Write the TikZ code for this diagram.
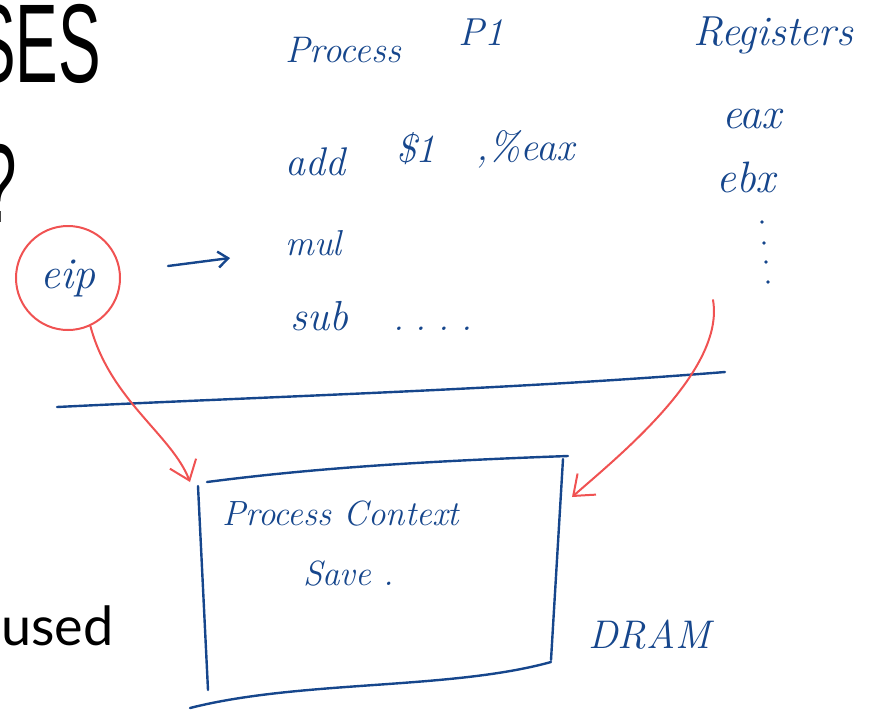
\documentclass[tikz,border=0pt]{standalone}
\usepackage{fontspec}
\usetikzlibrary{arrows.meta}
\newfontfamily\slidefont{Liberation Sans}
\newfontfamily\bodyfont{Lato}
\definecolor{encre}{HTML}{16468C}
\definecolor{rouge}{HTML}{F05252}
\newcommand\taille[1]{\fontsize{#1}{#1}\selectfont\itshape}
\tikzset{
  main/.style={text=encre, inner sep=0pt, anchor=base west, font=\taille{36}},
  slide/.style={text=black, inner sep=0pt, font=\fontsize{112}{112}\selectfont\slidefont},
  trait/.style={draw=encre, line width=2.4pt, line cap=round},
  fleche/.style={draw=rouge, line width=2pt, line cap=round, -{Straight Barb[length=18pt,width=28pt]}}
}

\begin{document}
\begin{tikzpicture}[x=1pt,y=-1pt]
   \useasboundingbox (0,0) rectangle (869,710);
   \clip (0,0) rectangle (869,710);

   % Texte de la diapositive
   \node[slide, anchor=base east] (titre) at (101,82) {\scalebox{0.57}[1]{SES}};
   \node[slide, anchor=base east] (quest) at (17,222) {\scalebox{0.57}[1]{?}};
   \node[inner sep=0pt, anchor=base west, font=\fontsize{54}{54}\selectfont\bodyfont] (used) at (1,645) {used};

   % Processus et registres
   \node[main, font=\taille{37}] (proc) at (285,62) {Process};
   \node[main, font=\taille{39}] (pun) at (458,45) {P1};
   \node[main, font=\taille{42}] (regs) at (693,45) {Registers};
   \node[main, font=\taille{40}] (add) at (285,175) {add};
   \node[main, font=\taille{40}] (dollar) at (396,162) {\$1};
   \node[main, font=\taille{40}] (pct) at (476,160) {,\%eax};
   \node[main, font=\taille{44}] (eax) at (722,128) {eax};
   \node[main, font=\taille{44}] (ebx) at (716,192) {ebx};
   \foreach \x/\y in {762/222, 764/243, 766/262, 768/282}
      \fill[encre] (\x,\y) circle (1.8pt);
   \node[main, font=\taille{36}] (mul) at (285,255) {mul};
   \node[main, font=\taille{42}] (sub) at (290,330) {sub};
   \node[main] (pts) at (393,330) {.\,\,.\,\,.\,\,.};

   \node[main, anchor=center, circle, draw=rouge, line width=2pt, minimum size=104pt, font=\taille{44}] (eip) at (68,278) {eip};
   \coordinate (pc) at (168,266);
   \coordinate (pcfin) at (230,258);
   \draw[trait, -{Straight Barb[length=10pt,width=16pt]}] (pc) -- (pcfin);

   % Ligne de separation
   \coordinate (sepg) at (57,407);
   \coordinate (sepd) at (725,372);
   \draw[trait] (sepg) .. controls (280,396) and (500,390) .. (sepd);

   % Boite DRAM
   \coordinate (hg) at (207,482);
   \coordinate (hd) at (568,456);
   \coordinate (gh) at (198,486);
   \coordinate (gb) at (208,690);
   \coordinate (dh) at (563,459);
   \coordinate (db) at (551,660);
   \coordinate (bd) at (551,662);
   \coordinate (bg) at (190,708);
   \draw[trait] (hg) .. controls (300,470) and (400,462) .. (hd);
   \draw[trait] (gh) -- (gb);
   \draw[trait] (dh) -- (db);
   \draw[trait] (bd) .. controls (450,690) and (300,680) .. (bg);
   \node[main, font=\taille{35}] (ctx) at (222,525) {Process Context};
   \node[main, font=\taille{35}] (save) at (303,585) {Save .};
   \node[main, font=\taille{40}] (dram) at (588,648) {DRAM};

   % Fleches rouges
   \coordinate (ctxg) at (190,482);
   \coordinate (ctxd) at (572,497);
   \coordinate (regbas) at (713,300);
   \draw[fleche] (eip.-65) .. controls (110,400) and (172,435) .. (ctxg);
   \draw[fleche] (regbas) .. controls (725,370) and (620,455) .. (ctxd);
\end{tikzpicture}
\end{document}
